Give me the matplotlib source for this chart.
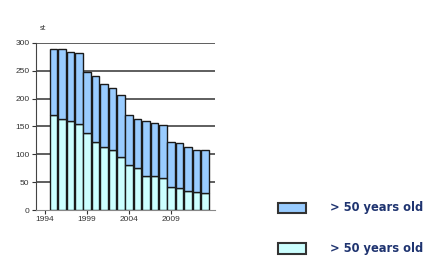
import matplotlib.pyplot as plt
from matplotlib.patches import Rectangle

years = list(range(1995, 2014))
total = [289, 289, 284, 282, 247, 240, 227, 219, 207, 170, 164, 159, 156, 152, 123, 120, 114, 108, 108]
young = [171, 163, 159, 155, 139, 123, 113, 107, 96, 80, 75, 62, 62, 57, 41, 39, 35, 32, 30]
older = [t - y for t, y in zip(total, young)]

x_ticks = [1994, 1999, 2004, 2009]
y_ticks = [0, 50, 100, 150, 200, 250, 300]
legend_labels = ["> 50 years old", "> 50 years old"]

c_top = "#99ccff"
c_low = "#ccffff"
edge = "#1a1a1a"
navy = "#1f3470"

fig = plt.figure(figsize=(4.43, 2.6), dpi=100)
ax = fig.add_axes([0.081, 0.192, 0.404, 0.643])

ax.bar(years, young, width=0.9, color=c_low, edgecolor=edge, linewidth=1.0, zorder=3)
ax.bar(years, older, bottom=young, width=0.9, color=c_top, edgecolor=edge, linewidth=1.0, zorder=3)

ax.set_xlim(1992.9, 2014.2)
ax.set_ylim(0, 300)
ax.set_xticks(x_ticks)
ax.set_yticks(y_ticks)
ax.tick_params(labelsize=6, colors="#333333", length=3, width=0.8, pad=1.5)
for lbl in ax.get_xticklabels() + ax.get_yticklabels():
    lbl.set_family("Liberation Sans")
for v in y_ticks[1:]:
    ax.axhline(v, color="#333333", linewidth=1.1, zorder=1)
for s in ["top", "right"]:
    ax.spines[s].set_visible(False)
ax.spines["left"].set_color("#444444")
ax.spines["bottom"].set_color("#888888")
ax.text(0.09, 0.885, "st", transform=fig.transFigure, fontsize=5, color="#333333")

# legend boxes
for i, (col, lab) in enumerate(zip([c_top, c_low], legend_labels)):
    yb = 0.18 - i * 0.155
    fig.patches.append(Rectangle((0.628, yb), 0.063, 0.04, transform=fig.transFigure,
                                 facecolor=col, edgecolor="#333333", linewidth=1.5))
    fig.text(0.745, yb + 0.02, lab, fontsize=8.3, fontweight="bold", color=navy, va="center")

fig.savefig("out.png", dpi=100)
